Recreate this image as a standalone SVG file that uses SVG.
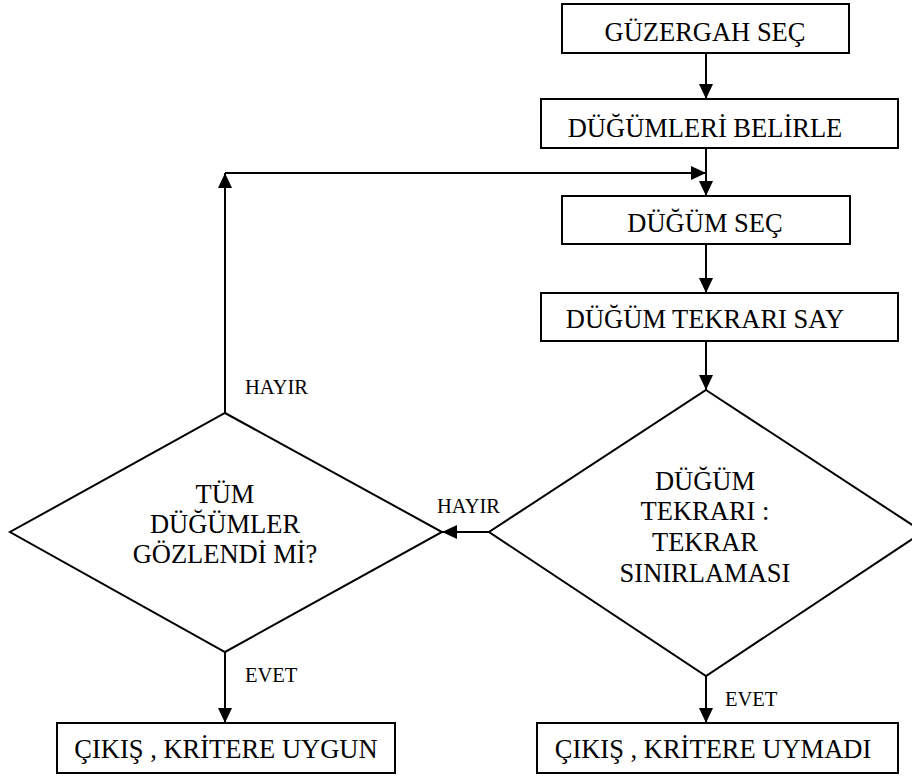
<svg xmlns="http://www.w3.org/2000/svg" width="912" height="776" viewBox="0 0 912 776">
  <style>
    .box { fill: #ffffff; stroke: #000000; stroke-width: 2; }
    text { font-family: "Liberation Serif", "DejaVu Serif", serif; font-weight: normal; fill: #000000; }
    .lbl { font-size: 26.5px; text-anchor: middle; }
    .tag { font-size: 20.5px; }
    .edge { fill: none; stroke: #000000; stroke-width: 2; }
  </style>
  <defs>
    <marker id="arrow" markerUnits="userSpaceOnUse" markerWidth="16" markerHeight="14" refX="15" refY="7" orient="auto">
      <path d="M0,0 L15,7 L0,14 Z" fill="#000000"/>
    </marker>
  </defs>
  <rect width="912" height="776" fill="#ffffff"/>

  <!-- connectors -->
  <g id="connectors">
    <line class="edge" x1="706" y1="53" x2="706" y2="99" marker-end="url(#arrow)"/>
    <line class="edge" x1="706" y1="148" x2="706" y2="196" marker-end="url(#arrow)"/>
    <line class="edge" x1="706" y1="244" x2="706" y2="293" marker-end="url(#arrow)"/>
    <line class="edge" x1="706" y1="341" x2="706" y2="390" marker-end="url(#arrow)"/>
    <!-- HAYIR: repeat limit not met -> back to overall check -->
    <line class="edge" x1="489" y1="532" x2="442" y2="532" marker-end="url(#arrow)"/>
    <!-- HAYIR loop back to node selection -->
    <line class="edge" x1="225" y1="413" x2="225" y2="173" marker-end="url(#arrow)"/>
    <line class="edge" x1="225" y1="173" x2="706" y2="173" marker-end="url(#arrow)"/>
    <!-- EVET exits -->
    <line class="edge" x1="225" y1="652" x2="225" y2="723" marker-end="url(#arrow)"/>
    <line class="edge" x1="706" y1="676" x2="706" y2="723" marker-end="url(#arrow)"/>
    <text class="tag" x="245" y="394">HAYIR</text>
    <text class="tag" x="437" y="513">HAYIR</text>
    <text class="tag" x="245" y="682">EVET</text>
    <text class="tag" x="725" y="706">EVET</text>
  </g>

  <g id="guzergah-sec">
    <rect class="box" x="562" y="4" width="287" height="49"/>
    <text class="lbl" x="705" y="41">GÜZERGAH SEÇ</text>
  </g>

  <g id="dugumleri-belirle">
    <rect class="box" x="541" y="99" width="357" height="49"/>
    <text class="lbl" x="705" y="137">DÜĞÜMLERİ BELİRLE</text>
  </g>

  <g id="dugum-sec">
    <rect class="box" x="562" y="196" width="288" height="48"/>
    <text class="lbl" x="705" y="232">DÜĞÜM SEÇ</text>
  </g>

  <g id="dugum-tekrari-say">
    <rect class="box" x="541" y="293" width="357" height="48"/>
    <text class="lbl" x="705" y="328">DÜĞÜM TEKRARI SAY</text>
  </g>

  <g id="tekrar-siniri">
    <polygon class="box" points="706,390 923,532 706,676 489,532"/>
    <text class="lbl" x="705" y="490">DÜĞÜM</text>
    <text class="lbl" x="705" y="520">TEKRARI :</text>
    <text class="lbl" x="705" y="551">TEKRAR</text>
    <text class="lbl" x="705" y="582">SINIRLAMASI</text>
  </g>

  <g id="tum-dugumler">
    <polygon class="box" points="225,413 442,532 225,652 10,532"/>
    <text class="lbl" x="225" y="503">TÜM</text>
    <text class="lbl" x="225" y="533">DÜĞÜMLER</text>
    <text class="lbl" x="225" y="563">GÖZLENDİ Mİ?</text>
  </g>

  <g id="cikis-uygun">
    <rect class="box" x="57" y="723" width="338" height="50"/>
    <text class="lbl" x="226" y="758">ÇIKIŞ , KRİTERE UYGUN</text>
  </g>

  <g id="cikis-uymadi">
    <rect class="box" x="537" y="723" width="361" height="50"/>
    <text class="lbl" x="713" y="758">ÇIKIŞ , KRİTERE UYMADI</text>
  </g>
</svg>
